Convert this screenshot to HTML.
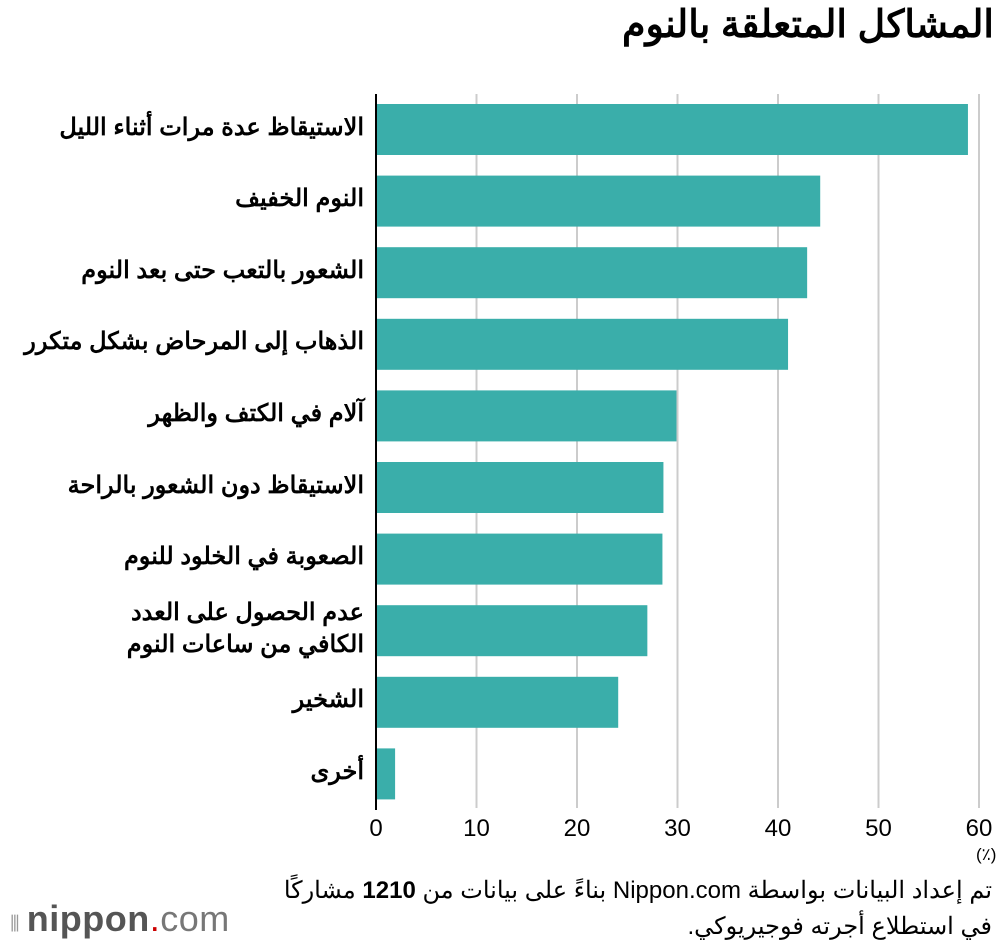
<!DOCTYPE html>
<html><head><meta charset="utf-8"><style>
body{margin:0;width:1000px;height:948px;background:#fff;overflow:hidden;font-family:"Liberation Sans","Noto Sans CJK SC",sans-serif}
#t{position:absolute;right:6px;top:2px;font-size:38px;font-weight:bold;direction:rtl;color:#000}
.lab{position:absolute;right:636px;direction:rtl;text-align:right;font-size:24px;font-weight:bold;line-height:32px;color:#000}
.tick{position:absolute;top:815px;font-size:24px;transform:translateX(-50%);color:#000}
.note{position:absolute;right:8px;direction:rtl;font-size:24px;color:#000}
</style></head><body>
<div id="t">المشاكل المتعلقة بالنوم</div>
<svg id="c" width="1000" height="948" style="position:absolute;left:0;top:0"></svg>
<div id="labels"></div>
<div style="position:absolute;left:976px;top:845px;font-size:17px">(٪)</div>
<div class="note" style="top:876px">تم إعداد البيانات بواسطة Nippon.com بناءً على بيانات من <b>1210</b> مشاركًا</div>
<div class="note" style="top:912px">في استطلاع أجرته فوجيريوكي.</div>
<div style="position:absolute;left:10px;top:898px;font-size:36px;color:#555;letter-spacing:0.5px"><span style="font-size:22px;color:#999">⦀ </span><b>nippon</b><span style="color:#c00">.</span><span style="font-weight:normal;color:#777">com</span></div>
<script>
const categories=["الاستيقاظ عدة مرات أثناء الليل","النوم الخفيف","الشعور بالتعب حتى بعد النوم","الذهاب إلى المرحاض بشكل متكرر","آلام في الكتف والظهر","الاستيقاظ دون الشعور بالراحة","الصعوبة في الخلود للنوم","عدم الحصول على العدد<br>الكافي من ساعات النوم","الشخير","أخرى"];
const values=[58.9,44.2,42.9,41.0,29.9,28.6,28.5,27.0,24.1,1.9];
const ticks=[0,10,20,30,40,50,60];
const x=v=>376+v*10.05;
const y=i=>104+i*71.6;
const svg=document.getElementById('c');
const ns='http://www.w3.org/2000/svg';
ticks.forEach(t=>{
 if(t>0){const l=document.createElementNS(ns,'line');
 
 
 l.setAttribute('x1',x(t));l.setAttribute('x2',x(t));l.setAttribute('y1',94);l.setAttribute('y2',808);
 l.setAttribute('stroke','#ccc');l.setAttribute('stroke-width','2');svg.appendChild(l);}
 const d=document.createElement('div');
 
 
 d.className='tick';d.style.left=x(t)+'px';d.textContent=t;document.body.appendChild(d);
});
values.forEach((v,i)=>{
 const r=document.createElementNS(ns,'rect');
 
 
 r.setAttribute('x',x(0));r.setAttribute('y',y(i));r.setAttribute('width',x(v)-x(0));r.setAttribute('height',51);
 r.setAttribute('fill','#3aaeaa');svg.appendChild(r);
 const d=document.createElement('div');
 
 
 d.className='lab';d.innerHTML=categories[i];
 const lines=categories[i].includes('<br>')?2:1;
 d.style.top=(y(i)+25.5-lines*16-2)+'px';
 document.getElementById('labels').appendChild(d);
});
const ax=document.createElementNS(ns,'line');


ax.setAttribute('x1',376);ax.setAttribute('x2',376);ax.setAttribute('y1',94);ax.setAttribute('y2',810);
ax.setAttribute('stroke','#000');ax.setAttribute('stroke-width','2');svg.appendChild(ax);
</script>
</body></html>
